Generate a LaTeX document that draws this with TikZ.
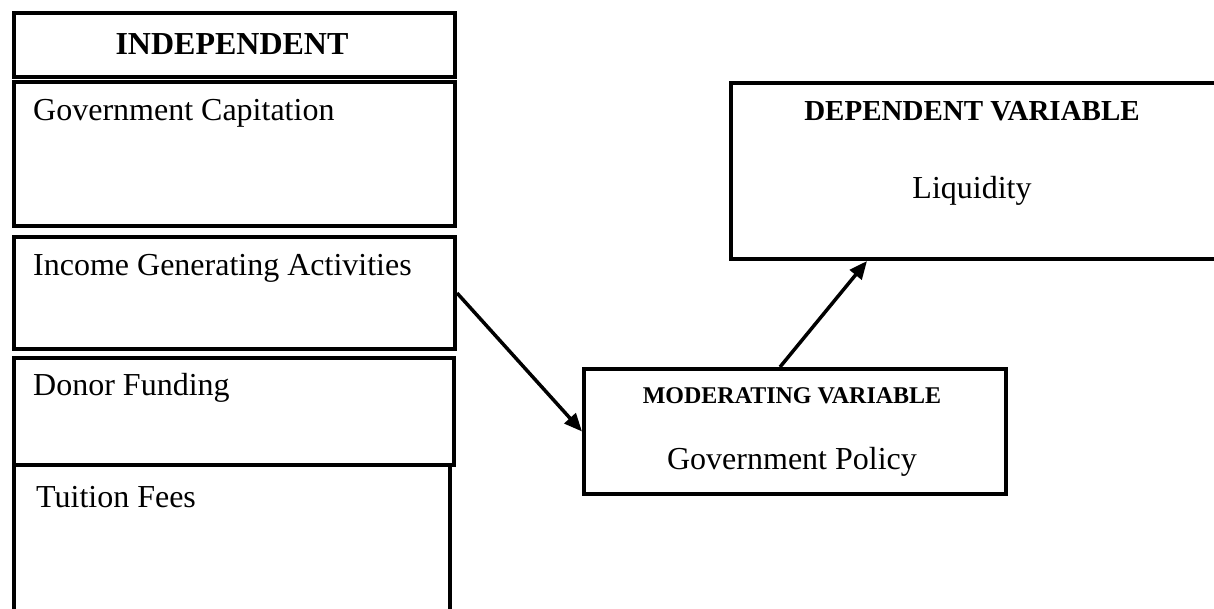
\documentclass[tikz,border=0pt]{standalone}
\usepackage{fontspec}
\setmainfont{Liberation Serif}
\usepackage{tikz}
\usetikzlibrary{arrows.meta, positioning, calc}

\tikzset{
  varbox/.style={draw, rectangle, line width=4pt, inner sep=0pt, anchor=north west},
  boxtext/.style={font=\fontsize{32}{38}\selectfont, inner sep=0pt, anchor=base west},
  midtext/.style={font=\fontsize{32}{38}\selectfont, inner sep=0pt, anchor=base},
  headtext/.style={font=\bfseries\fontsize{#1}{#1}\selectfont, inner sep=0pt, anchor=base},
  link/.style={-{Triangle[length=18pt, width=15pt]}, line width=3.5pt},
}

\begin{document}
\begin{tikzpicture}[x=1pt, y=-1pt]
    \useasboundingbox (0,0) rectangle (1214,609);
    % independent column (px from top left)
    \node[varbox, minimum width=441pt, minimum height=64pt] (indep) at (12,11) {};
    \node[varbox, minimum width=441pt, minimum height=144pt] (capit) at (12,80) {};
    \node[varbox, minimum width=441pt, minimum height=112pt] (income) at (12,235) {};
    \node[varbox, minimum width=440pt, minimum height=107pt] (donor) at (12,356) {};
    \node[varbox, minimum width=436pt, minimum height=170pt] (tuition) at (12,463) {};
    \node[headtext=32] (indeplab) at (232,55) {INDEPENDENT};
    \node[boxtext] (capitlab) at (33,121) {Government Capitation};
    \node[boxtext] (incomelab) at (33,276) {Income Generating Activities};
    \node[boxtext] (donorlab) at (33,395) {Donor Funding};
    \node[boxtext] (tuitionlab) at (36,507) {Tuition Fees};
    % moderating and dependent
    \node[varbox, minimum width=422pt, minimum height=125pt] (moder) at (582,367) {};
    \node[headtext=24] (moderhead) at (792,403) {MODERATING VARIABLE};
    \node[midtext] (moderlab) at (792,469) {Government Policy};
    \node[varbox, minimum width=490pt, minimum height=176pt] (depend) at (729,81) {};
    \node[headtext=29] (dependhead) at (972,121) {DEPENDENT VARIABLE};
    \node[midtext] (dependlab) at (972,199) {Liquidity};
    % links
    \draw[link] (income.east) -- (moder.west);
    \draw[link] ($(moder.north)+(-15,0)$) -- ($(depend.south west)+(138,0)$);
\end{tikzpicture}
\end{document}
